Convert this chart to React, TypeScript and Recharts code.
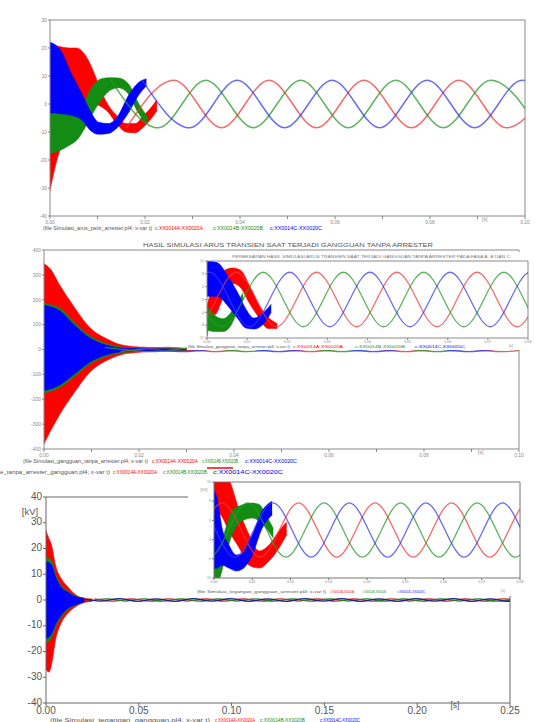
import React from "react";
import { ComposedChart, Area, Line, XAxis, YAxis, ReferenceLine } from "recharts";

type Pt = [number, number];
type Band = [number, number, number];

// steady-state phase currents, peaks and troughs
const steadyRed: Pt[] = [[-0.0139, 8.5], [-0.0039, -8.5], [0.0061, 8.5], [0.0161, -8.5], [0.0261, 8.5], [0.0361, -8.5], [0.0461, 8.5], [0.0561, -8.5], [0.0661, 8.5], [0.0761, -8.5], [0.0861, 8.5], [0.0961, -8.5], [0.1061, 8.5]];
const steadyGreen: Pt[] = [[-0.0072, 8.5], [0.0028, -8.5], [0.0128, 8.5], [0.0228, -8.5], [0.0328, 8.5], [0.0428, -8.5], [0.0528, 8.5], [0.0628, -8.5], [0.0728, 8.5], [0.0828, -8.5], [0.0928, 8.5], [0.1028, -8.5]];
const steadyBlue: Pt[] = [[-0.0106, -8.5], [-0.0006, 8.5], [0.0094, -8.5], [0.0194, 8.5], [0.0294, -8.5], [0.0394, 8.5], [0.0494, -8.5], [0.0594, 8.5], [0.0694, -8.5], [0.0794, 8.5], [0.0894, -8.5], [0.0994, 8.5], [0.1094, -8.5]];

// panel 1: transient envelopes [t, low, high]
const p1RedBand: Band[] = [[0, -31, 22], [0.001, -23, 21], [0.002, -17, 20.5], [0.004, -12, 20], [0.0055, -8, 20], [0.0076, -2, 17], [0.0093, 0, 11], [0.0108, -1, 4.5], [0.0123, -3, -0.5], [0.014, -7, -4], [0.016, -10, -7], [0.018, -10.3, -7], [0.0195, -8.5, -4.5], [0.0214, -5, -1], [0.0225, -2.5, 1.5]];
const p1GreenBand: Band[] = [[0, -17.7, -3.2], [0.0015, -17, -2.8], [0.0038, -15, -1.8], [0.0058, -12.6, -0.5], [0.0072, -9, 1], [0.0087, -4.3, 5.7], [0.0108, 1.5, 9], [0.0125, 4.7, 9.4], [0.0144, 5.8, 9.3], [0.0165, 3.6, 7.2], [0.0186, -3.2, 0.4], [0.0205, -7, -4.5]];
const p1BlueBand: Band[] = [[0, -3.2, 22], [0.0008, -3.2, 21.5], [0.0023, -3.5, 19], [0.0044, -4, 11.2], [0.0066, -5.5, 4], [0.0087, -9.7, -3.2], [0.0102, -10.8, -6.5], [0.0123, -10.5, -7], [0.0144, -8, -4], [0.0165, -3.2, 3], [0.0186, 3, 7.6], [0.0203, 6.5, 9]];

// panel 2: decaying fault current envelopes
const p2RedBand: Band[] = [[0, -380, 345], [0.0013, -330, 325], [0.0034, -258, 256], [0.0062, -178, 175], [0.0098, -88, 85], [0.0134, -42, 41], [0.016, -22, 20], [0.02, -11, 10], [0.025, -7, 7], [0.03, -5, 5], [0.034, -3, 3]];
const p2GreenBand: Band[] = [[0, -175, 185], [0.0034, -152, 165], [0.0062, -112, 112], [0.0098, -57, 53], [0.0134, -26, 22], [0.0168, -12, 9], [0.022, -6, 5], [0.03, -3, 3]];
const p2BlueBand: Band[] = [[0, -165, 178], [0.0008, -162, 175], [0.0034, -142, 155], [0.0062, -102, 102], [0.0098, -49, 45], [0.0134, -20, 16], [0.0168, -8, 5], [0.022, -4, 3], [0.03, -2, 2]];

// panel 2 inset
const in2RedBand: Band[] = [[0, -11.5, -2], [0.001, -6, 2], [0.0025, -4, 3.6], [0.0035, -1, 7], [0.0045, 2, 9.2], [0.0065, 5, 9.8], [0.0085, 3.5, 9], [0.0105, -1, 4.5], [0.0127, -5.2, -1.1], [0.0152, -9, -5.5], [0.0175, -9, -7.5]];
const in2GreenBand: Band[] = [[0, -9.5, -2], [0.002, -10, -5], [0.004, -10, -6], [0.006, -8, -4], [0.0075, -4, -1], [0.009, 0, 2]];
const in2BlueBand: Band[] = [[0, 1, 12], [0.0025, 1, 11.5], [0.0052, -2, 7.3], [0.0077, -6, 2], [0.0097, -8.9, -3], [0.0117, -9.2, -5.8], [0.014, -7.7, -4.2], [0.016, -4, -1.5]];

// panel 3: fault voltage envelopes [kV]
const p3RedBand: Band[] = [[0, -27, 27], [0.0015, -28, 24], [0.0027, -26, 22], [0.0054, -14.6, 12.7], [0.0081, -9, 8.4], [0.0119, -5, 5], [0.0152, -3, 2.5], [0.0206, -1, 0.6], [0.025, -0.5, 0.4]];
const p3GreenBand: Band[] = [[0, -16.5, 16.5], [0.0027, -15, 15.5], [0.0054, -10, 9.5], [0.0081, -6.8, 5.7], [0.0119, -3.7, 3.4], [0.0152, -2.3, 1.8], [0.0206, -0.9, 0.8]];
const p3BlueBand: Band[] = [[0, -15, 15], [0.0027, -13.5, 14], [0.0054, -9, 8.5], [0.0081, -6, 5], [0.0119, -3.2, 3], [0.0152, -2, 1.5], [0.0206, -0.8, 0.7]];
const p3RedResid: Pt[] = [[0.0261, 0.45], [0.0361, -0.45], [0.0461, 0.4], [0.0561, -0.45], [0.0661, 0.45], [0.0761, -0.4], [0.0861, 0.45], [0.0961, -0.45], [0.1061, 0.4], [0.1161, -0.45], [0.1261, 0.45], [0.1361, -0.4], [0.1461, 0.45], [0.1561, -0.45], [0.1661, 0.4], [0.1761, -0.45], [0.1861, 0.45], [0.1961, -0.4], [0.2061, 0.45], [0.2161, -0.45], [0.2261, 0.4], [0.2361, -0.45], [0.2461, 0.45], [0.25, 0.3]];
const p3GreenResid: Pt[] = [[0.0228, -0.45], [0.0328, 0.45], [0.0428, -0.4], [0.0528, 0.45], [0.0628, -0.45], [0.0728, 0.4], [0.0828, -0.45], [0.0928, 0.45], [0.1028, -0.4], [0.1128, 0.45], [0.1228, -0.45], [0.1328, 0.4], [0.1428, -0.45], [0.1528, 0.45], [0.1628, -0.4], [0.1728, 0.45], [0.1828, -0.45], [0.1928, 0.4], [0.2028, -0.45], [0.2128, 0.45], [0.2228, -0.4], [0.2328, 0.45], [0.2428, -0.45], [0.25, -0.1]];
const p3BlueResid: Pt[] = [[0.0194, 0.5], [0.0294, -0.45], [0.0394, 0.5], [0.0494, -0.5], [0.0594, 0.45], [0.0694, -0.5], [0.0794, 0.5], [0.0894, -0.45], [0.0994, 0.5], [0.1094, -0.5], [0.1194, 0.45], [0.1294, -0.5], [0.1394, 0.5], [0.1494, -0.45], [0.1594, 0.5], [0.1694, -0.5], [0.1794, 0.45], [0.1894, -0.5], [0.1994, 0.5], [0.2094, -0.45], [0.2194, 0.5], [0.2294, -0.5], [0.2394, 0.45], [0.2494, -0.5], [0.25, -0.45]];

// panel 3 inset
const in3RedBand: Band[] = [[0, 6, 22], [0.0018, 4.7, 20], [0.0039, -0.3, 16], [0.0066, -5.6, 6], [0.0092, -11, -1.6], [0.0118, -11.9, -6.6], [0.0144, -9.7, -4.7], [0.017, -5.6, -0.3], [0.019, -1.5, 2.5]];
const in3GreenBand: Band[] = [[0, -18, -5], [0.0015, -15, -4.7], [0.0031, -7.8, 0.6], [0.0047, -1.6, 6], [0.0073, 2.8, 7.8], [0.01, 3.75, 8.4], [0.0118, 2.8, 8], [0.0136, 0.6, 4.7], [0.0155, -2.5, 0.5]];
const in3BlueBand: Band[] = [[0, -12, 12.5], [0.0008, -11.9, 10], [0.0021, -11, 0.6], [0.0039, -11.9, -4.7], [0.0058, -12.8, -7.8], [0.0073, -12.3, -7.5], [0.01, -7.8, -1.6], [0.0126, 0.6, 6], [0.0152, 4.7, 9]];

// ticks
const xTicks10 = [0, 0.01, 0.02, 0.03, 0.04, 0.05, 0.06, 0.07, 0.08, 0.09, 0.1];
const xTicksInset = [0, 0.01, 0.02, 0.03, 0.04, 0.05, 0.06, 0.07, 0.08];
const xTicks25 = [0, 0.05, 0.1, 0.15, 0.2, 0.25];
const p1YTicks = [-40, -30, -20, -10, 0, 10, 20, 30];
const p2YTicks = [-400, -300, -200, -100, 0, 100, 200, 300, 400];
const in2YTicks = [-12, -8, -4, 0, 4, 8, 12];
const p3YTicks = [-40, -30, -20, -10, 0, 10, 20, 30, 40];
const in3YTicks = [-15, -9, -3, 3, 9, 15];

const W = 535;
const H = 722;
const RED = "#ff0000";
const GREEN = "#138c13";
const BLUE = "#0000ff";
const FONT = "'Liberation Sans', Arial, sans-serif";

const from = (pts: Pt[], t0: number) => pts.filter(p => p[0] >= t0);
const shift = (pts: Pt[], dt: number): Pt[] => pts.map(p => [p[0] + dt, p[1]]);
const lineRows = (pts: Pt[]) => pts.map(([t, v]) => ({ t, v }));
const bandRows = (pts: Band[]) => pts.map(([t, lo, hi]) => ({ t, v: [lo, hi] }));

type Box = { l: number; t: number; r: number; b: number };
const YW = 30;
const XH = 12;
const marginFor = (p: Box) => ({ top: p.t, left: p.l - YW, right: W - p.r, bottom: H - p.b - XH });

const P1: Box = { l: 50, t: 20, r: 525, b: 216 };
const P2: Box = { l: 44, t: 250, r: 519, b: 449 };
const IN2: Box = { l: 207, t: 261, r: 528, b: 338 };
const P3: Box = { l: 46, t: 497, r: 510, b: 703 };
const IN3: Box = { l: 214, t: 482, r: 520, b: 578 };

const evenLabel = (v: number) => (Math.round(v * 100) % 2 === 0 ? v.toFixed(2) : "");

type Set3<T> = [T, T, T];
function phases(bands: Set3<Band[]>, lines: Set3<Pt[]>, lineColors: string[], opacity: number, lineWidth = 1.5) {
  const common = { type: "monotone" as const, isAnimationActive: false, dot: false, activeDot: false };
  const fills = [RED, GREEN, BLUE];
  const out: React.ReactNode[] = [];
  [0, 1, 2].forEach(i => {
    out.push(<Area key={"b" + i} data={bandRows(bands[i])} dataKey="v" {...common} fill={fills[i]} stroke={fills[i]} strokeWidth={0.6} fillOpacity={1} />);
    out.push(<Line key={"l" + i} data={lineRows(lines[i])} dataKey="v" {...common} stroke={lineColors[i]} strokeWidth={lineWidth} strokeOpacity={opacity} />);
  });
  return out;
}

const thinColors = ["#f03a3a", "#2a982a", "#3a3af0"];
const smallTick = { fontSize: 5, fill: "#8a8a8a", fontFamily: FONT };
const tinyTick = { fontSize: 3.6, fill: "#8a8a8a", fontFamily: FONT };
const bigTick = { fontSize: 10, fill: "#555", fontFamily: FONT };

function LegendRow({ y, black, red, green, blue, text, size = 5 }: { y: number; black: number[]; red: number[]; green: number[]; blue: number[]; text: string; size?: number }) {
  const item = (span: number[], color: string, label: string) => (
    <text x={span[0]} y={y} fontSize={size} fill={color} textLength={span[1] - span[0]} lengthAdjust="spacingAndGlyphs" dominantBaseline="middle">{label}</text>
  );
  return (
    <g fontFamily={FONT}>
      {item(black, "#555", text)}
      {item(red, RED, "c:XX0014A-XX0020A")}
      {item(green, GREEN, "c:XX0014B-XX0020B")}
      {item(blue, BLUE, "c:XX0014C-XX0020C")}
    </g>
  );
}

const abs: React.CSSProperties = { position: "absolute", left: 0, top: 0 };

export default function App() {
  return (
    <div style={{ position: "absolute", left: 0, top: 0, width: W, height: H, background: "#fff", overflow: "hidden" }}>
      {/* panel 1 */}
      <div style={abs}>
        <ComposedChart width={W} height={H} margin={marginFor(P1)}>
          <XAxis type="number" dataKey="t" domain={[0, 0.1]} ticks={xTicks10} tickFormatter={evenLabel} interval={0} allowDataOverflow height={XH} tick={smallTick} tickSize={3} tickMargin={1} stroke="#8a8a8a" />
          <YAxis type="number" domain={[-40, 30]} ticks={p1YTicks} interval={0} allowDataOverflow width={YW} tick={smallTick} tickSize={2} tickMargin={1} stroke="#8a8a8a" />
          <ReferenceLine y={30} stroke="#8a8a8a" />
          <ReferenceLine x={0.1} stroke="#8a8a8a" />
          {phases([p1RedBand, p1GreenBand, p1BlueBand], [from(steadyRed, 0.016), from(steadyGreen, 0.0128), from(steadyBlue, 0.0194)], thinColors, 0.75)}
        </ComposedChart>
      </div>

      {/* panel 2 */}
      <div style={abs}>
        <ComposedChart width={W} height={H} margin={marginFor(P2)}>
          <XAxis type="number" dataKey="t" domain={[0, 0.1]} ticks={xTicks10} tickFormatter={evenLabel} interval={0} allowDataOverflow height={XH} tick={smallTick} tickSize={3} tickMargin={1} stroke="#8a8a8a" />
          <YAxis type="number" domain={[-400, 400]} ticks={p2YTicks} interval={0} allowDataOverflow width={YW} tick={smallTick} tickSize={2} tickMargin={1} stroke="#8a8a8a" />
          <ReferenceLine y={400} stroke="#8a8a8a" />
          <ReferenceLine x={0.1} stroke="#8a8a8a" />
          {phases([p2RedBand, p2GreenBand, p2BlueBand], [from(steadyRed, 0.016), from(steadyGreen, 0.0128), from(steadyBlue, 0.0194)], thinColors, 0.85, 1.3)}
        </ComposedChart>
      </div>

      {/* panel 3 */}
      <div style={abs}>
        <ComposedChart width={W} height={H} margin={marginFor(P3)}>
          <XAxis type="number" dataKey="t" domain={[0, 0.25]} ticks={xTicks25} tickFormatter={(v: number) => v.toFixed(2)} interval={0} allowDataOverflow height={XH} tick={bigTick} tickSize={3} tickMargin={1} stroke="#666" />
          <YAxis type="number" domain={[-40, 40]} ticks={p3YTicks} interval={0} allowDataOverflow width={YW} tick={{ ...bigTick, dy: -1 }} tickSize={3} tickMargin={1} stroke="#666" />
          <ReferenceLine y={40} stroke="#666" />
          <ReferenceLine x={0.25} stroke="#666" />
          {phases([p3RedBand, p3GreenBand, p3BlueBand], [p3RedResid, p3GreenResid, p3BlueResid], ["#c23030", "#2a7a2a", "#22228a"], 1, 1.3)}
        </ComposedChart>
      </div>

      {/* inset backgrounds */}
      <div style={{ position: "absolute", left: 187, top: 252, width: 343, height: 98, background: "#fff" }} />
      <div style={{ position: "absolute", left: 188, top: 477, width: 336, height: 119, background: "#fff" }} />

      {/* panel 2 inset */}
      <div style={abs}>
        <ComposedChart width={W} height={H} margin={marginFor(IN2)}>
          <XAxis type="number" dataKey="t" domain={[0, 0.08]} ticks={xTicksInset} tickFormatter={(v: number) => v.toFixed(2)} interval={0} allowDataOverflow height={XH} tick={tinyTick} tickSize={2} tickMargin={0} stroke="#8a8a8a" />
          <YAxis type="number" domain={[-12, 12]} ticks={in2YTicks} interval={0} allowDataOverflow width={YW} tick={tinyTick} tickSize={2} tickMargin={1} stroke="#8a8a8a" />
          <ReferenceLine y={12} stroke="#8a8a8a" />
          <ReferenceLine x={0.08} stroke="#8a8a8a" />
          {phases([in2RedBand, in2GreenBand, in2BlueBand], [shift(steadyRed, 0.0012), shift(steadyGreen, 0.0012), shift(steadyBlue, 0.0012)], thinColors, 0.75, 1.3)}
        </ComposedChart>
      </div>

      {/* panel 3 inset */}
      <div style={abs}>
        <ComposedChart width={W} height={H} margin={marginFor(IN3)}>
          <XAxis type="number" dataKey="t" domain={[0, 0.08]} ticks={xTicksInset} tickFormatter={(v: number) => v.toFixed(2)} interval={0} allowDataOverflow height={XH} tick={tinyTick} tickSize={2} tickMargin={0} stroke="#777" />
          <YAxis type="number" domain={[-15, 15]} ticks={in3YTicks} interval={0} allowDataOverflow width={YW} tick={tinyTick} tickSize={2} tickMargin={1} stroke="#777" />
          <ReferenceLine y={15} stroke="#777" />
          <ReferenceLine x={0.08} stroke="#777" />
          {phases([in3RedBand, in3GreenBand, in3BlueBand], [shift(steadyRed, -0.004), shift(steadyGreen, -0.004), shift(steadyBlue, -0.004)], thinColors, 0.75, 1.3)}
        </ComposedChart>
      </div>

      {/* titles, units and legends */}
      <svg width={W} height={H} style={{ ...abs, pointerEvents: "none" }}>
        <text x={482} y={220} fontSize={5} fill="#888" fontFamily={FONT} dominantBaseline="middle">[s]</text>
        <LegendRow y={229} black={[43, 152]} red={[155, 203]} green={[213, 263]} blue={[270, 322]} text="(file Simulasi_arus_petir_arrester.pl4; x-var t)" />

        <text x={143} y={246} fontSize={5.5} fill="#555" fontFamily={FONT} textLength={290} lengthAdjust="spacingAndGlyphs" dominantBaseline="middle">HASIL SIMULASI ARUS TRANSIEN SAAT TERJADI GANGGUAN TANPA ARRESTER</text>
        <text x={232} y={257} fontSize={3.5} fill="#777" fontFamily={FONT} textLength={278} lengthAdjust="spacingAndGlyphs" dominantBaseline="middle">PERBESARAN HASIL SIMULASI ARUS TRANSIEN SAAT TERJADI GANGGUAN TANPA ARRESTER PADA FASA A, B DAN C</text>
        <text x={509} y={346} fontSize={3.6} fill="#888" fontFamily={FONT} dominantBaseline="middle">[s]</text>
        <LegendRow y={347} black={[188, 290]} red={[293, 343]} green={[355, 405]} blue={[415, 465]} size={3.6} text="(file Simulasi_gangguan_tanpa_arrester.pl4; x-var t)" />
        <text x={478} y={453} fontSize={5} fill="#888" fontFamily={FONT} dominantBaseline="middle">[s]</text>
        <LegendRow y={462} black={[23, 148]} red={[152, 198]} green={[202, 238]} blue={[245, 297]} size={4.5} text="(file Simulasi_gangguan_tanpa_arrester.pl4; x-var t)" />
        <line x1={207} y1={468} x2={233} y2={468} stroke={RED} strokeWidth={1.5} />

        <LegendRow y={473} black={[0, 110]} red={[113, 157]} green={[163, 207]} blue={[213, 283]} size={4.5} text="e_tanpa_arrester_gangguan.pl4; x-var t)" />
        <text x={204} y={490} fontSize={4} fill="#888" fontFamily={FONT} textAnchor="middle" dominantBaseline="middle">[kV]</text>
        <text x={501} y={591} fontSize={3.6} fill="#888" fontFamily={FONT} dominantBaseline="middle">[s]</text>
        <LegendRow y={592} black={[197, 326]} red={[330, 354]} green={[362, 386]} blue={[397, 425]} size={2.8} text="(file Simulasi_tegangan_gangguan_arrester.pl4; x-var t)" />
        <text x={30} y={512} fontSize={9.5} fill="#555" fontFamily={FONT} textAnchor="middle" dominantBaseline="middle">[kV]</text>
        <text x={455} y={706} fontSize={8.5} fill="#555" fontFamily={FONT} textAnchor="middle" dominantBaseline="middle">[s]</text>
        <LegendRow y={721} black={[50, 210]} red={[215, 255]} green={[260, 305]} blue={[320, 360]} size={5} text="(file Simulasi_tegangan_gangguan.pl4; x-var t)" />
      </svg>
    </div>
  );
}
